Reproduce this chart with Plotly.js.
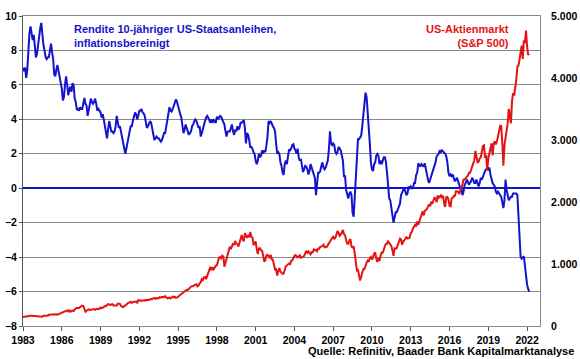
<!DOCTYPE html>
<html>
<head>
<meta charset="utf-8">
<script src="https://cdn.plot.ly/plotly-3.0.1.min.js"></script>
<style>
html,body{margin:0;padding:0;background:#fff;}
#chart{width:580px;height:359px;}
</style>
</head>
<body>
<div id="chart"></div>
<script>
// Monthly data, starting January 1983
const startYear = 1983;

// Real 10-year US Treasury yield (inflation adjusted), % — left axis
const realYield = [
  7.0, 6.8, 7.0, 6.4, 6.9, 8.2, 9.0, 9.4, 8.8, 8.6, 8.9, 8.3,          // 1983
  7.6, 7.8, 8.4, 8.9, 9.3, 9.6, 8.9, 8.3, 8.0, 7.6, 7.5, 7.6,          // 1984
  7.6, 8.0, 8.4, 7.9, 7.5, 6.6, 6.5, 6.9, 7.15, 6.8, 6.5, 6.3,         // 1985
  5.8, 5.1, 5.3, 6.0, 6.5, 6.0, 5.4, 5.7, 5.9, 5.6, 6.1, 6.0,          // 1986
  5.2, 5.0, 4.55, 4.6, 4.5, 4.7, 4.6, 4.6, 5.0, 5.24, 4.9, 4.8,        // 1987
  4.2, 4.5, 4.8, 5.2, 5.0, 4.9, 5.0, 5.2, 4.9, 4.5, 4.6, 4.5,          // 1988
  4.4, 4.1, 4.3, 4.0, 3.6, 3.2, 2.9, 3.4, 3.9, 3.6, 3.3, 3.3,          // 1989
  3.2, 3.3, 3.6, 4.2, 3.9, 3.5, 3.6, 3.3, 2.9, 2.6, 2.3, 2.0,          // 1990
  2.3, 2.7, 3.15, 3.3, 3.6, 3.6, 3.9, 4.1, 4.4, 4.3, 4.0, 4.2,         // 1991
  4.5, 4.5, 4.6, 4.4, 4.35, 4.2, 3.8, 3.5, 3.6, 3.8, 3.9, 3.8,         // 1992
  3.5, 3.0, 2.8, 2.9, 3.0, 2.9, 2.9, 2.8, 2.7, 2.8, 3.1, 3.2,          // 1993
  3.2, 3.6, 3.9, 4.3, 4.7, 4.5, 4.45, 4.6, 4.8, 5.1, 5.16, 5.0,        // 1994
  4.7, 4.55, 4.3, 4.1, 3.7, 3.2, 3.4, 3.7, 3.5, 3.3, 3.1, 3.2,         // 1995
  3.3, 3.6, 3.7, 3.9, 4.0, 3.9, 3.7, 3.5, 3.6, 3.0, 3.2, 3.5,          // 1996
  3.8, 3.9, 4.1, 4.2, 4.1, 3.9, 3.8, 4.0, 3.8, 3.95, 3.9, 3.8,         // 1997
  4.15, 4.0, 4.1, 4.2, 4.15, 4.0, 3.8, 3.7, 3.3, 3.0, 3.3, 3.3,        // 1998
  3.3, 3.5, 3.7, 3.3, 3.1, 3.4, 3.3, 3.6, 3.4, 3.5, 3.8, 3.8,          // 1999
  3.9, 3.95, 3.5, 2.6, 3.2, 3.1, 2.8, 2.4, 2.4, 2.3, 2.1, 2.0,         // 2000
  1.6, 1.4, 1.6, 2.0, 1.8, 1.9, 2.2, 2.0, 2.2, 2.1, 2.5, 3.0,          // 2001
  3.9, 3.8, 3.9, 3.7, 3.6, 3.5, 3.3, 2.6, 2.0, 2.1, 2.0, 1.5,          // 2002
  1.3, 0.9, 0.77, 1.4, 1.6, 1.4, 1.8, 2.25, 2.2, 2.3, 2.5, 2.55,       // 2003
  2.3, 2.2, 2.0, 2.3, 1.8, 1.6, 1.7, 1.3, 0.93, 1.1, 1.3, 1.25,        // 2004
  1.1, 0.8, 1.0, 1.4, 1.2, 0.9, 0.7, 0.6, -0.4, 0.2, 0.9, 0.9,         // 2005
  1.0, 1.3, 1.5, 1.2, 1.1, 1.2, 1.4, 1.6, 2.25, 3.3, 2.6, 2.5,         // 2006
  2.6, 2.5, 2.1, 2.0, 2.1, 2.4, 2.3, 2.2, 1.9, 1.6, 0.7, 0.7,          // 2007
  -0.1, -0.4, -0.6, -0.3, -0.2, -0.4, -1.45, -1.65, -0.5, 0.9, 2.1, 2.85, // 2008
  2.85, 3.0, 3.05, 3.6, 4.4, 4.8, 5.55, 5.3, 4.55, 3.6, 2.6, 1.5,      // 2009
  1.1, 1.0, 1.4, 1.5, 1.9, 2.0, 1.9, 1.4, 1.6, 1.4, 1.6, 1.8,          // 2010
  1.8, 1.5, 0.9, 0.2, -0.6, -0.7, -1.25, -1.6, -2.0, -1.7, -1.4, -1.4, // 2011
  -1.25, -1.1, -0.9, -0.4, -0.2, -0.1, 0.0, -0.2, -0.4, -0.3, 0.1, 0.0, // 2012
  0.1, 0.0, 0.0, 0.3, 0.3, 0.77, 0.9, 1.45, 1.3, 1.25, 1.4, 1.3,       // 2013
  1.25, 1.45, 1.1, 0.7, 0.5, 0.3, 0.5, 0.7, 0.8, 1.0, 1.25, 1.5,       // 2014
  1.85, 1.9, 2.0, 2.2, 2.1, 2.2, 2.15, 2.1, 2.0, 1.85, 1.5, 0.9,       // 2015
  0.7, 0.8, 0.7, 0.8, 0.6, 0.4, 0.5, 0.6, 0.4, 0.2, 0.0, 0.0,          // 2016
  -0.4, -0.2, 0.2, 0.3, 0.5, 0.4, 0.2, 0.3, 0.4, 0.6, 0.5, 0.3,        // 2017
  0.3, 0.5, 0.3, 0.1, 0.3, 0.6, 0.5, 0.7, 0.9, 1.0, 1.1, 1.2,          // 2018
  1.1, 1.2, 0.8, 0.5, 0.3, 0.2, 0.1, -0.2, -0.3, -0.2, -0.3, -0.4,     // 2019
  -0.5, -0.8, -1.15, -0.7, 0.5, -0.1, -0.4, -0.7, -0.6, -0.5, -0.5, -0.3, // 2020
  -0.3, -0.3, -0.3, -0.4, -1.5, -3.0, -3.98, -4.1, -4.0, -3.95, -4.5, -5.1, // 2021
  -5.6, -5.85, -6.0                                                     // 2022
];

// S&P 500 index level — right axis
const sp500 = [
  145, 148, 153, 164, 162, 168, 163, 164, 166, 164, 166, 165,          // 1983
  163, 157, 159, 160, 151, 153, 151, 167, 166, 166, 164, 167,          // 1984
  180, 181, 181, 180, 190, 192, 191, 189, 182, 190, 202, 211,          // 1985
  212, 227, 239, 236, 247, 251, 236, 253, 231, 244, 249, 242,          // 1986
  274, 284, 292, 288, 290, 304, 319, 330, 322, 252, 230, 247,          // 1987
  257, 268, 259, 261, 262, 274, 272, 262, 272, 279, 274, 278,          // 1988
  298, 289, 295, 310, 321, 318, 346, 352, 349, 340, 346, 353,          // 1989
  329, 332, 340, 331, 361, 358, 356, 323, 306, 304, 322, 330,          // 1990
  344, 367, 375, 375, 390, 371, 388, 395, 388, 393, 375, 417,          // 1991
  409, 413, 404, 415, 415, 408, 424, 414, 418, 419, 431, 436,          // 1992
  439, 443, 452, 440, 450, 451, 448, 464, 459, 468, 462, 466,          // 1993
  482, 467, 446, 451, 457, 444, 458, 476, 463, 472, 454, 459,          // 1994
  470, 487, 501, 515, 533, 545, 562, 562, 584, 582, 605, 616,          // 1995
  636, 640, 646, 654, 669, 671, 640, 652, 687, 705, 757, 741,          // 1996
  786, 791, 757, 801, 848, 885, 954, 900, 947, 915, 955, 970,          // 1997
  980, 1049, 1102, 1112, 1091, 1134, 1121, 957, 1017, 1099, 1164, 1229, // 1998
  1280, 1238, 1286, 1335, 1302, 1373, 1329, 1320, 1283, 1363, 1389, 1469, // 1999
  1395, 1366, 1499, 1452, 1421, 1455, 1431, 1518, 1437, 1429, 1315, 1320, // 2000
  1366, 1240, 1160, 1250, 1256, 1224, 1211, 1134, 1041, 1060, 1139, 1148, // 2001
  1130, 1107, 1147, 1077, 1067, 990, 912, 916, 815, 886, 936, 880,     // 2002
  856, 841, 848, 917, 964, 975, 990, 1008, 996, 1051, 1058, 1112,      // 2003
  1131, 1145, 1126, 1107, 1121, 1141, 1102, 1104, 1115, 1130, 1174, 1212, // 2004
  1181, 1204, 1181, 1157, 1192, 1191, 1234, 1220, 1229, 1207, 1250, 1248, // 2005
  1280, 1281, 1295, 1311, 1270, 1270, 1277, 1304, 1336, 1378, 1401, 1418, // 2006
  1438, 1407, 1421, 1482, 1531, 1503, 1455, 1474, 1527, 1549, 1481, 1468, // 2007
  1379, 1331, 1323, 1386, 1400, 1280, 1267, 1283, 1166, 969, 896, 903,  // 2008
  826, 735, 798, 873, 919, 919, 988, 1021, 1057, 1036, 1096, 1115,     // 2009
  1074, 1105, 1169, 1187, 1089, 1031, 1102, 1049, 1141, 1183, 1181, 1258, // 2010
  1286, 1327, 1326, 1364, 1345, 1321, 1292, 1219, 1131, 1253, 1247, 1258, // 2011
  1312, 1366, 1409, 1398, 1310, 1362, 1379, 1407, 1441, 1412, 1416, 1426, // 2012
  1498, 1515, 1569, 1598, 1631, 1606, 1686, 1633, 1682, 1757, 1806, 1848, // 2013
  1783, 1859, 1872, 1884, 1924, 1960, 1931, 2003, 1972, 2018, 2068, 2059, // 2014
  1995, 2105, 2068, 2086, 2107, 2063, 2104, 1972, 1920, 2079, 2080, 2044, // 2015
  1940, 1932, 2060, 2065, 2097, 2099, 2174, 2171, 2168, 2126, 2199, 2239, // 2016
  2279, 2364, 2363, 2384, 2412, 2423, 2470, 2472, 2519, 2575, 2648, 2674, // 2017
  2824, 2714, 2641, 2648, 2705, 2718, 2816, 2902, 2914, 2712, 2760, 2507, // 2018
  2704, 2785, 2834, 2946, 2752, 2942, 2980, 2927, 2977, 3038, 3141, 3231, // 2019
  3226, 2954, 2585, 2912, 3044, 3100, 3271, 3500, 3363, 3270, 3622, 3756, // 2020
  3714, 3811, 3973, 4181, 4204, 4298, 4395, 4523, 4308, 4605, 4567, 4766, // 2021
  4516, 4374, 4390                                                      // 2022
];

const xTickYears = [1983, 1986, 1989, 1992, 1995, 1998, 2001, 2004, 2007, 2010, 2013, 2016, 2019, 2022];
const leftTicks = [-8, -6, -4, -2, 0, 2, 4, 6, 8, 10];
const rightTicks = [0, 1000, 2000, 3000, 4000, 5000];

const xs = (arr) => arr.map((_, i) => startYear + i / 12);

const BLUE = '#1414cc';
const RED = '#e41414';
const GRID = '#8a8a8a';
const FONT = 'Liberation Sans, Arial, sans-serif';

const traces = [
  {
    x: xs(realYield), y: realYield, type: 'scatter', mode: 'lines',
    line: {color: BLUE, width: 2}, yaxis: 'y', hoverinfo: 'skip'
  },
  {
    x: xs(sp500), y: sp500, type: 'scatter', mode: 'lines',
    line: {color: RED, width: 2}, yaxis: 'y2', hoverinfo: 'skip'
  }
];

const layout = {
  width: 580, height: 359,
  margin: {l: 23, r: 40, t: 16, b: 33, pad: 0},
  paper_bgcolor: '#fff', plot_bgcolor: '#fff',
  showlegend: false,
  separators: ',.',
  font: {family: FONT, size: 10.5, color: '#000'},
  xaxis: {
    range: [1983, 2023], tickvals: xTickYears, ticktext: xTickYears.map(String),
    ticks: 'outside', ticklen: 4, tickcolor: '#555', tickwidth: 1,
    showgrid: false, zeroline: false,
    showline: true, linecolor: GRID, linewidth: 1, mirror: true,
    tickfont: {family: FONT, size: 10.5, color: '#000', weight: 'bold'}
  },
  yaxis: {
    range: [-8, 10], tickvals: leftTicks,
    ticks: 'outside', ticklen: 3, tickcolor: '#555',
    showgrid: true, gridcolor: GRID, gridwidth: 1,
    zeroline: true, zerolinecolor: BLUE, zerolinewidth: 2,
    showline: true, linecolor: '#555', linewidth: 1,
    tickfont: {family: FONT, size: 10.5, color: '#000', weight: 'bold'}
  },
  yaxis2: {
    overlaying: 'y', side: 'right', range: [0, 5000], tickvals: rightTicks,
    tickformat: ',d', ticks: '', ticklabelstandoff: 8,
    showgrid: false, zeroline: false,
    showline: true, linecolor: GRID, linewidth: 1,
    tickfont: {family: FONT, size: 10.5, color: '#000', weight: 'bold'}
  },
  annotations: [
    {
      xref: 'paper', yref: 'paper', x: 0.095, y: 0.985, xanchor: 'left', yanchor: 'top',
      align: 'left', showarrow: false,
      text: 'Rendite 10-jähriger US-Staatsanleihen,<br>inflationsbereinigt',
      font: {family: FONT, size: 11, color: BLUE, weight: 'bold'}
    },
    {
      xref: 'paper', yref: 'paper', x: 0.944, y: 0.985, xanchor: 'right', yanchor: 'top',
      align: 'right', showarrow: false,
      text: 'US-Aktienmarkt<br>(S&amp;P 500)',
      font: {family: FONT, size: 11, color: RED, weight: 'bold'}
    },
    {
      xref: 'paper', yref: 'paper', x: 1.07, y: -0.081, xanchor: 'right', yanchor: 'middle',
      align: 'right', showarrow: false,
      text: 'Quelle: Refinitiv, Baader Bank Kapitalmarktanalyse',
      font: {family: FONT, size: 11, color: '#000', weight: 'bold'}
    }
  ]
};

Plotly.newPlot('chart', traces, layout, {staticPlot: true, displayModeBar: false});
</script>
</body>
</html>
